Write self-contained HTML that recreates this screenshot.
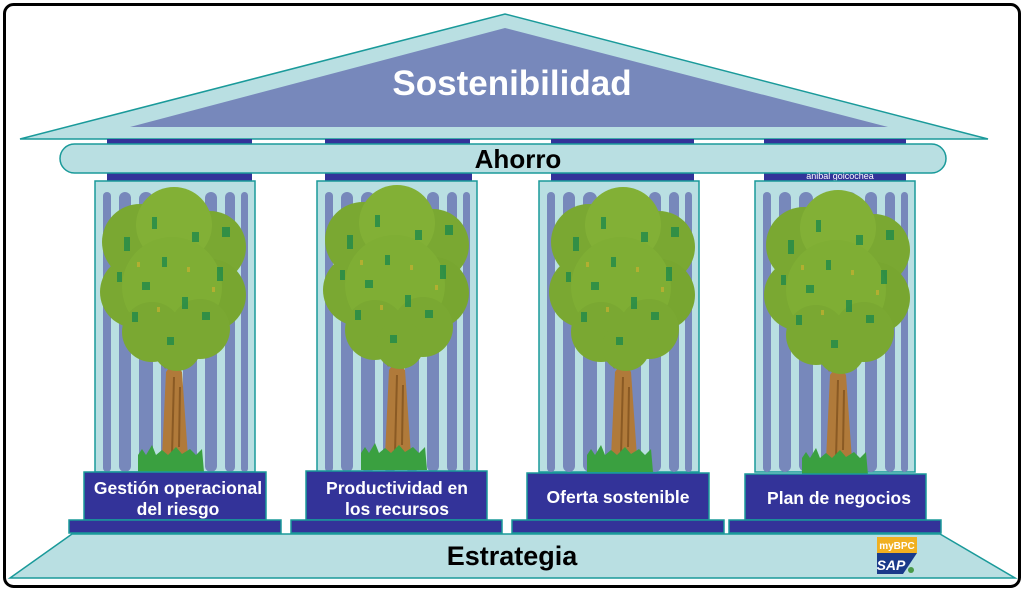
<!DOCTYPE html>
<html><head><meta charset="utf-8"><style>
html,body{margin:0;padding:0;background:#fff;width:1026px;height:593px;overflow:hidden}
svg{display:block}
text{font-family:"Liberation Sans",Arial,sans-serif;font-weight:bold}
</style></head><body>
<svg width="1026" height="593" viewBox="0 0 1026 593" xmlns="http://www.w3.org/2000/svg">
<defs>
<g id="tree">
  <path d="M66,180 L54,158 M78,180 L92,160" stroke="#a0662a" stroke-width="7" fill="none"/>
  <path d="M60,270 L64,185 Q72,172 80,185 L86,270 Z" fill="#b07a3a"/>
  <path d="M70,268 L72,190 M77,260 L78,200" stroke="#8a5a24" stroke-width="2"/>
  <circle cx="38" cy="55" r="38" fill="#7aa832"/>
  <circle cx="108" cy="60" r="36" fill="#7aa832"/>
  <circle cx="72" cy="38" r="38" fill="#82b036"/>
  <circle cx="34" cy="105" r="36" fill="#7aa832"/>
  <circle cx="108" cy="108" r="36" fill="#78a630"/>
  <circle cx="70" cy="100" r="50" fill="#7fae34"/>
  <circle cx="50" cy="145" r="30" fill="#7aa832"/>
  <circle cx="98" cy="142" r="30" fill="#7aa832"/>
  <circle cx="75" cy="160" r="24" fill="#7aa832"/>
  <g fill="#1f8a4a" opacity=".8">
    <rect x="22" y="50" width="6" height="14"/><rect x="50" y="30" width="5" height="12"/>
    <rect x="90" y="45" width="7" height="10"/><rect x="115" y="80" width="6" height="14"/>
    <rect x="40" y="95" width="8" height="8"/><rect x="80" y="110" width="6" height="12"/>
    <rect x="60" y="70" width="5" height="10"/><rect x="100" y="125" width="8" height="8"/>
    <rect x="30" y="125" width="6" height="10"/><rect x="65" y="150" width="7" height="8"/>
    <rect x="120" y="40" width="8" height="10"/><rect x="15" y="85" width="5" height="10"/>
  </g>
  <g fill="#c8b030" opacity=".7">
    <rect x="35" y="75" width="3" height="5"/><rect x="85" y="80" width="3" height="5"/>
    <rect x="110" y="100" width="3" height="5"/><rect x="55" y="120" width="3" height="5"/>
  </g>
  <path d="M36,285 L36,268 L40,262 L44,268 L50,258 L54,268 L60,263 L66,268 L74,260 L80,267 L88,262 L94,268 L100,262 L102,285 Z" fill="#3aa040"/>
</g>
<g id="col">
  <rect x="0" y="0" width="160" height="291" fill="#b9dfe2" stroke="#1a9a9a" stroke-width="1.5"/>
  <g fill="#7788bb">
    <rect x="8" y="11" width="8" height="280" rx="4"/>
    <rect x="24" y="11" width="12" height="280" rx="6"/>
    <rect x="44" y="11" width="14" height="280" rx="7"/>
    <rect x="66" y="11" width="14" height="280" rx="7"/>
    <rect x="88" y="11" width="14" height="280" rx="7"/>
    <rect x="110" y="11" width="12" height="280" rx="6"/>
    <rect x="130" y="11" width="10" height="280" rx="5"/>
    <rect x="146" y="11" width="7" height="280" rx="3.5"/>
  </g>
</g>
</defs>

<rect x="4.5" y="4.5" width="1015" height="582" rx="9" fill="#fff" stroke="#000" stroke-width="3"/>

<polygon points="72,534 940,534 1015,578 10,578" fill="#b9dfe2" stroke="#1a9a9a" stroke-width="1.5"/>
<text x="512" y="565" font-size="27" text-anchor="middle" fill="#000">Estrategia</text>

<rect x="877" y="537" width="40" height="16" fill="#f0b020"/>
<text x="897" y="549" font-size="10" text-anchor="middle" fill="#fff">myBPC</text>
<polygon points="877,553 917,553 903,574 877,574" fill="#1a3a8a"/>
<text x="891" y="570" font-size="14" text-anchor="middle" fill="#fff" font-style="italic">SAP</text>
<circle cx="911" cy="570" r="3" fill="#4a9a4a"/>

<polygon points="20,139 505,14 988,139" fill="#b9dfe2" stroke="#1a9a9a" stroke-width="1.5"/>
<polygon points="130,127 505,28 888,127" fill="#7788bb"/>
<text x="512" y="95" font-size="35" text-anchor="middle" fill="#fff">Sostenibilidad</text>

<g fill="#333399">
<rect x="107" y="139" width="145" height="7"/><rect x="325" y="139" width="145" height="7"/>
<rect x="551" y="139" width="143" height="7"/><rect x="764" y="139" width="142" height="7"/>
<rect x="107" y="172" width="145" height="9"/><rect x="325" y="172" width="147" height="9"/>
<rect x="551" y="172" width="143" height="9"/><rect x="764" y="172" width="142" height="9"/>
</g>
<rect x="60" y="144" width="886" height="29" rx="14.5" fill="#b9dfe2" stroke="#1a9a9a" stroke-width="1.5"/>
<text x="518" y="168" font-size="26" text-anchor="middle" fill="#000">Ahorro</text>
<text x="840" y="179" font-size="9" text-anchor="middle" fill="#fff" style="font-weight:normal">anibal goicochea</text>

<use href="#col" x="95" y="181"/>
<use href="#col" x="317" y="181"/>
<use href="#col" x="539" y="181"/>
<use href="#col" x="755" y="181"/>

<use href="#tree" x="102" y="187"/>
<use href="#tree" x="325" y="185"/>
<use href="#tree" x="551" y="187"/>
<use href="#tree" x="766" y="190"/>

<g fill="#333399" stroke="#1a9a9a" stroke-width="1.5">
<rect x="84" y="472" width="182" height="48"/>
<rect x="306" y="471" width="181" height="49"/>
<rect x="527" y="473" width="182" height="47"/>
<rect x="745" y="474" width="181" height="46"/>
<rect x="69" y="520" width="212" height="13"/>
<rect x="291" y="520" width="211" height="13"/>
<rect x="512" y="520" width="212" height="13"/>
<rect x="729" y="520" width="212" height="13"/>
</g>
<g fill="#fff" font-size="17.5" text-anchor="middle">
<text x="178" y="494">Gestión operacional</text>
<text x="178" y="515">del riesgo</text>
<text x="397" y="494">Productividad en</text>
<text x="397" y="515">los recursos</text>
<text x="618" y="503">Oferta sostenible</text>
<text x="839" y="504">Plan de negocios</text>
</g>
</svg>
</body></html>
